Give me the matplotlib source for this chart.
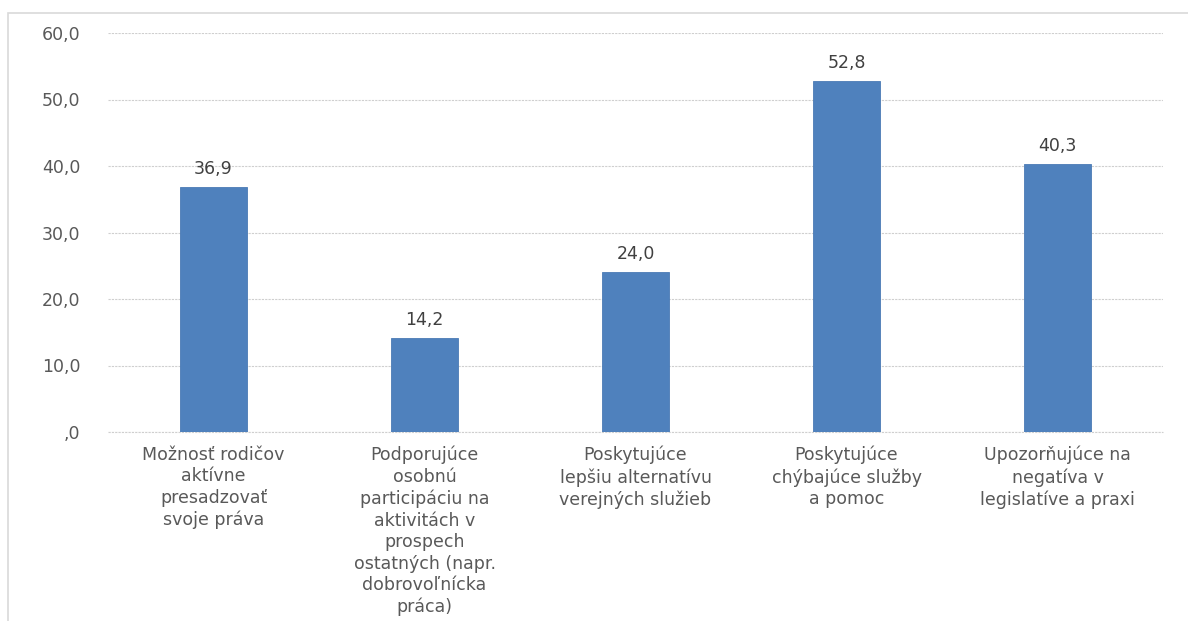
import matplotlib
matplotlib.use("Agg")
import matplotlib.pyplot as plt
from matplotlib.patches import Rectangle
from matplotlib.ticker import FuncFormatter

categories = [
    "Možnosť rodičov\naktívne\npresadzovať\nsvoje práva",
    "Podporujúce\nosobnú\nparticipáciu na\naktivitách v\nprospech\nostatných (napr.\ndobrovoľnícka\npráca)",
    "Poskytujúce\nlepšiu alternatívu\nverejných služieb",
    "Poskytujúce\nchýbajúce služby\na pomoc",
    "Upozorňujúce na\nnegatíva v\nlegislatíve a praxi",
]
values = [36.9, 14.2, 24.0, 52.8, 40.3]
y_ticks = [0, 10, 20, 30, 40, 50, 60]

plt.rcParams["font.family"] = ["DejaVu Sans"]

W, H = 1188, 621
fig = plt.figure(figsize=(W / 100, H / 100), dpi=100)
fig.patch.set_facecolor("white")

# chart frame
fig.patches.append(Rectangle((7.5 / W, -0.1), 1.2, 1 - 12.5 / H + 0.1,
                             transform=fig.transFigure, fill=False,
                             edgecolor="#d9d9d9", linewidth=1.2))

left, right = 108 / W, 1163 / W
bottom, top = 1 - 432 / H, 1 - 33 / H
ax = fig.add_axes([left, bottom, right - left, top - bottom])

x = range(len(values))
ax.bar(x, values, width=0.32, color="#4f81bd", edgecolor="#4a7ab5",
       linewidth=0.6, zorder=3)

for xi, v in zip(x, values):
    ax.annotate(f"{v:.1f}".replace(".", ","), (xi, v), xytext=(0, 6.5),
                textcoords="offset points", ha="center", va="bottom",
                fontsize=12.5, color="#404040")


def fmt(v, pos):
    s = ("%.1f" % v).replace(".", ",")
    return s[1:] if s.startswith("0") else s


ax.set_xlim(-0.5, len(values) - 0.5)
ax.set_ylim(0, 60)
ax.set_yticks(y_ticks)
ax.yaxis.set_major_formatter(FuncFormatter(fmt))
ax.set_xticks(list(x))
ax.set_xticklabels(categories, fontsize=12.5, color="#595959",
                   linespacing=1.25)
ax.tick_params(axis="both", length=0)
ax.tick_params(axis="y", labelsize=12.5, labelcolor="#595959", pad=20)
ax.tick_params(axis="x", pad=10)

ax.grid(axis="y", color="#cfcfcf", linestyle=(0, (2, 1)), linewidth=0.8,
        zorder=0)
ax.axhline(0, color="#cfcfcf", linestyle=(0, (2, 1)), linewidth=0.8,
           zorder=1, clip_on=False)
for s in ax.spines.values():
    s.set_visible(False)

fig.savefig("out.png", dpi=100)
